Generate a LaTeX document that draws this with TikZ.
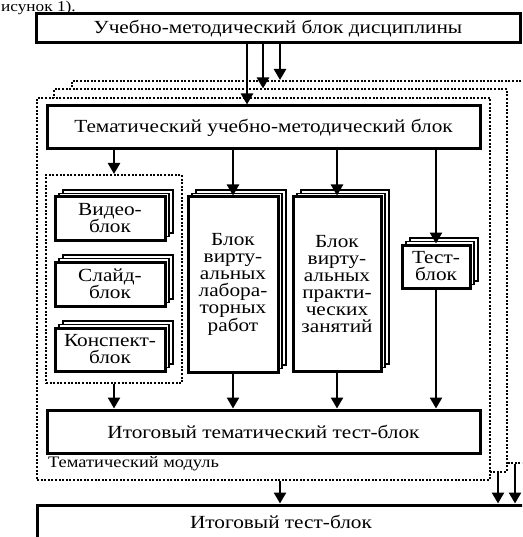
\documentclass[tikz,border=0pt]{standalone}
\usepackage{fontspec}
\setmainfont[FakeStretch=1.15]{Liberation Serif}
\usetikzlibrary{arrows.meta,shadows}
\tikzset{
  box/.style={draw, line width=3pt, fill=white, align=center, inner sep=0pt,
    font=\fontsize{18.5}{17}\selectfont},
  pages/.style={
    copy shadow={shadow xshift=8pt,shadow yshift=7pt,draw,line width=1.8pt,fill=white},
    copy shadow={shadow xshift=4pt,shadow yshift=3.5pt,draw,line width=1.8pt,fill=white}},
  frame/.style={draw, line width=2pt, dash pattern=on 2pt off 1.6pt, fill=white, inner sep=0pt},
  arr/.style={line width=2.5pt, -{Triangle[length=11pt,width=12pt]}},
}
\begin{document}
\begin{tikzpicture}[x=1pt,y=-1pt]
\useasboundingbox (0,0) rectangle (522,537);
\clip (0,0) rectangle (522,537);
% fragment of surrounding text
\node[anchor=base west, inner sep=0pt, font=\fontsize{15}{15}\selectfont] (frag) at (1,11.5) {исунок 1).};
% stacked module frames
\node[frame, minimum width=453, minimum height=382] (mod3) at (298.5,272) {};
\node[frame, minimum width=453, minimum height=382] (mod2) at (280.5,280.5) {};
\node[frame, minimum width=453, minimum height=382] (mod1) at (263.5,289) {};
\node[anchor=base west, inner sep=0pt, font=\fontsize{16}{16}\selectfont] (modlabel) at (48,467) {Тематический модуль};
% top and bottom boxes
\node[box, minimum width=484, minimum height=29] (top) at (278,28.5) {Учебно-методический блок дисциплины};
\node[box, minimum width=488, minimum height=34] (final) at (281,522) {Итоговый тест-блок};
% thematic
\node[box, minimum width=433, minimum height=43] (them) at (263.5,127.5) {Тематический учебно-методический блок};
\node[frame, minimum width=136, minimum height=208] (media) at (114,279) {};
\node[box, pages, minimum width=110, minimum height=43] (video) at (110,218.5) {Видео-\\блок};
\node[box, pages, minimum width=110, minimum height=44] (slide) at (110,284) {Слайд-\\блок};
\node[box, pages, minimum width=110, minimum height=43] (konsp) at (110,349.5) {Конспект-\\блок};
\node[box, pages, minimum width=90, minimum height=175] (lab) at (233,284.5) {Блок\\вирту-\\альных\\лабора-\\торных\\работ};
\node[box, pages, minimum width=88, minimum height=174] (prac) at (337,284) {Блок\\вирту-\\альных\\практи-\\ческих\\занятий};
\node[box, pages, minimum width=68, minimum height=43] (test) at (436,266.5) {Тест-\\блок};
\node[box, minimum width=433, minimum height=43] (themtest) at (263.5,431.5) {Итоговый тематический тест-блок};
% arrows from the discipline block
\coordinate (a1) at (247,0);
\coordinate (a2) at (263,0);
\coordinate (a3) at (280,0);
\draw[arr] (a1 |- top.south) -- (a1 |- them.north);
\draw[arr] (a2 |- top.south) -- (a2 |- mod2.north);
\draw[arr] (a3 |- top.south) -- (a3 |- mod3.north);
% arrows inside the module
\draw[arr] (them.south -| media.north) -- (media.north);
\draw[arr] (them.south -| lab.north) -- (lab.north);
\draw[arr] (them.south -| prac.north) -- (prac.north);
\draw[arr] (them.south -| test.north) -- (test.north);
\draw[arr] (media.south) -- (media.south |- themtest.north);
\draw[arr] (lab.south) -- (lab.south |- themtest.north);
\draw[arr] (prac.south) -- (prac.south |- themtest.north);
\draw[arr] (test.south) -- (test.south |- themtest.north);
% arrows to the final test
\coordinate (b1) at (280,0);
\coordinate (b2) at (498,0);
\coordinate (b3) at (515,0);
\draw[arr] (b1 |- mod1.south) -- (b1 |- final.north);
\draw[arr] (b2 |- mod2.south) -- (b2 |- final.north);
\draw[arr] (b3 |- mod3.south) -- (b3 |- final.north);
\end{tikzpicture}
\end{document}
